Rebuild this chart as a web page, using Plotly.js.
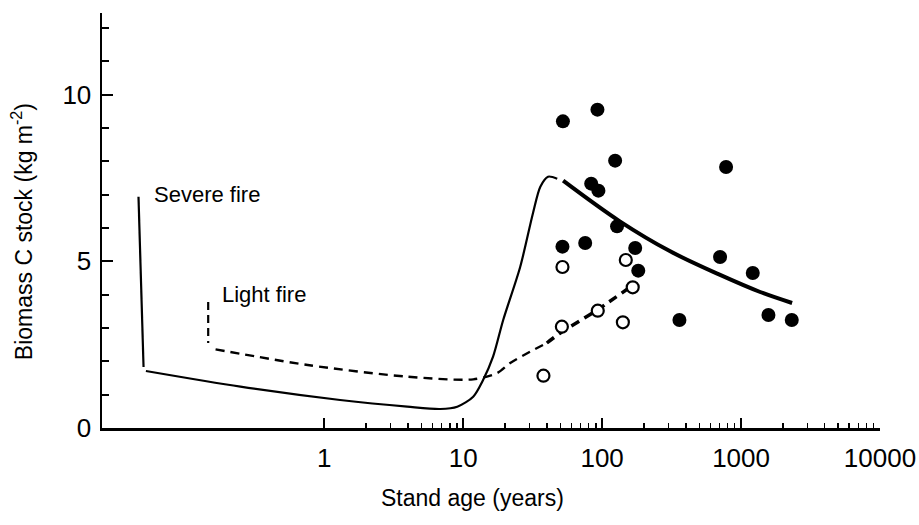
<!DOCTYPE html>
<html>
<head>
<meta charset="utf-8">
<script src="https://cdn.plot.ly/plotly-3.0.1.min.js"></script>
<style>html,body{margin:0;padding:0;background:#fff;}#chart{width:919px;height:525px;}</style>
</head>
<body>
<div id="chart"></div>
<script>
// Severe fire: initial drop (vertical) and recovery curve
var severeDropX = [0.046, 0.050];
var severeDropY = [6.94, 1.83];
var severeCurveX = [0.052, 0.249, 1.30, 3.95, 6.84, 9.06, 11.8, 13.9, 16.4, 19.4, 25.7, 31.8, 35.9, 40.8, 47.5];
var severeCurveY = [1.71, 1.24, 0.84, 0.64, 0.57, 0.64, 0.94, 1.44, 2.14, 3.24, 4.83, 6.45, 7.24, 7.54, 7.48];
// Severe fire: old-stand trend
var severeTrendX = [52.4, 134, 309, 700, 1372, 2330];
var severeTrendY = [7.42, 6.20, 5.30, 4.60, 4.08, 3.75];
// Light fire: initial drop and recovery curve
var lightDropX = [0.146, 0.146];
var lightDropY = [3.78, 2.55];
var lightCurveX = [0.165, 0.76, 3.95, 11.8, 17.6, 21.8, 30, 40];
var lightCurveY = [2.36, 1.89, 1.54, 1.46, 1.65, 1.95, 2.28, 2.55];
var lightTrendX = [40, 50, 92, 167];
var lightTrendY = [2.55, 2.85, 3.54, 4.29];
// Observed stands
var filledX = [52.2, 92.5, 124, 780, 83.4, 94, 128, 51.8, 75.5, 173, 706, 1214, 182, 360, 1574, 2317];
var filledY = [9.20, 9.55, 8.02, 7.83, 7.33, 7.12, 6.05, 5.44, 5.55, 5.40, 5.13, 4.65, 4.72, 3.24, 3.39, 3.24];
var openX = [51.8, 148, 166, 93, 51.3, 141, 37.8];
var openY = [4.83, 5.04, 4.22, 3.52, 3.04, 3.17, 1.57];
// Axis ticks and labels
var xTickVals = [1, 10, 100, 1000, 10000];
var xTickText = ['1', '10', '100', '1000', '10000'];
var yTickVals = [0, 5, 10];
var yMinorVals = [1, 2, 3, 4, 6, 7, 8, 9, 11, 12];
var xMinorVals = [];
[1, 10, 100, 1000].forEach(function (d) { for (var k = 2; k <= 9; k++) xMinorVals.push(d * k); });
var xTitle = 'Stand age (years)';
var yTitle = 'Biomass C stock (kg m<sup>-2</sup>)';
var severeLabel = 'Severe fire';
var lightLabel = 'Light fire';

var black = '#000000';
var traces = [
  {x: severeDropX, y: severeDropY, mode: 'lines', line: {color: black, width: 2.2}, hoverinfo: 'skip'},
  {x: severeCurveX, y: severeCurveY, mode: 'lines', line: {color: black, width: 2.2, shape: 'spline', smoothing: 0.8}, hoverinfo: 'skip'},
  {x: severeTrendX, y: severeTrendY, mode: 'lines', line: {color: black, width: 4, shape: 'spline'}, hoverinfo: 'skip'},
  {x: lightDropX, y: lightDropY, mode: 'lines', line: {color: black, width: 2.2, dash: '8px,5px'}, hoverinfo: 'skip'},
  {x: lightCurveX, y: lightCurveY, mode: 'lines', line: {color: black, width: 2.4, dash: '9px,6px', shape: 'spline', smoothing: 0.8}, hoverinfo: 'skip'},
  {x: lightTrendX, y: lightTrendY, mode: 'lines', line: {color: black, width: 3.5, dash: '9px,6px', shape: 'spline'}, hoverinfo: 'skip'},
  {x: filledX, y: filledY, mode: 'markers', marker: {color: black, size: 14, line: {width: 0}}},
  {x: openX, y: openY, mode: 'markers', marker: {color: '#ffffff', size: 12, line: {color: black, width: 2.2}}}
];

var font = 'Liberation Sans, Arial, sans-serif';
var layout = {
  width: 919, height: 525,
  showlegend: false,
  paper_bgcolor: '#ffffff', plot_bgcolor: '#ffffff',
  margin: {l: 102, r: 39, t: 13, b: 97},
  font: {family: font, color: black},
  xaxis: {
    type: 'log', range: [-1.6, 4],
    showgrid: false, zeroline: false,
    showline: true, linecolor: black, linewidth: 2.5,
    tickmode: 'array', tickvals: xTickVals, ticktext: xTickText,
    ticks: 'inside', ticklen: 10, tickwidth: 2, tickcolor: black,
    minor: {tickmode: 'array', tickvals: xMinorVals, ticks: 'inside', ticklen: 5, tickwidth: 1.5, tickcolor: black, showgrid: false},
    tickfont: {size: 26, family: font, color: black},
    ticklabelstandoff: 5
  },
  yaxis: {
    range: [0, 12.45],
    showgrid: false, zeroline: false,
    showline: true, linecolor: black, linewidth: 2.5,
    tickmode: 'array', tickvals: yTickVals,
    ticks: 'inside', ticklen: 11, tickwidth: 2, tickcolor: black,
    minor: {tickmode: 'array', tickvals: yMinorVals, ticks: 'inside', ticklen: 7, tickwidth: 2, tickcolor: black, showgrid: false},
    tickfont: {size: 26, family: font, color: black},
    ticklabelstandoff: 3
  },
  annotations: [
    {text: xTitle, xref: 'paper', yref: 'paper', x: 0.4756, y: -0.1687, xanchor: 'center', yanchor: 'middle', showarrow: false, font: {size: 23, family: font, color: black}},
    {text: yTitle, xref: 'paper', yref: 'paper', x: -0.1028, y: 0.472, xanchor: 'center', yanchor: 'middle', textangle: -90, showarrow: false, font: {size: 23, family: font, color: black}},
    {text: severeLabel, xref: 'x', yref: 'y', x: -1.237, y: 7.0, xanchor: 'left', yanchor: 'middle', showarrow: false, font: {size: 22, family: font, color: black}},
    {text: lightLabel, xref: 'x', yref: 'y', x: -0.748, y: 4.0, xanchor: 'left', yanchor: 'middle', showarrow: false, font: {size: 22, family: font, color: black}}
  ]
};

Plotly.newPlot('chart', traces, layout, {displayModeBar: false, staticPlot: true});
</script>
</body>
</html>
